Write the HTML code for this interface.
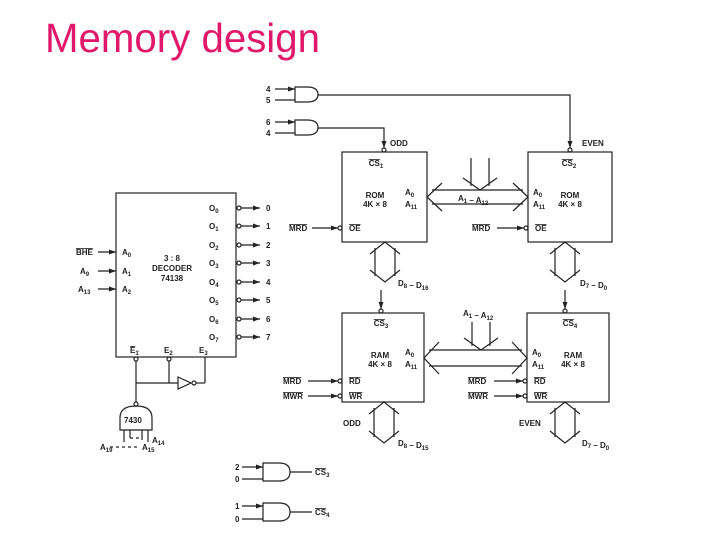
<!DOCTYPE html>
<html><head><meta charset="utf-8"><style>
html,body{margin:0;padding:0;background:#fff;width:720px;height:540px;overflow:hidden}
svg{display:block}
text{font-family:"Liberation Sans",Arial,sans-serif;font-weight:bold;fill:#222}
.t{font-size:8px}
line,path,rect,polyline,circle{stroke:#222;stroke-width:1.2;fill:none}
</style></head><body>
<svg width="720" height="540" viewBox="0 0 720 540">
<defs>
<marker id="a" markerWidth="8" markerHeight="6" refX="7" refY="3" orient="auto" markerUnits="userSpaceOnUse"><path d="M0,0.5 L7,3 L0,5.5 Z" style="fill:#222;stroke:none"/></marker>
</defs>
<text x="45" y="52" style="font-size:41px;font-weight:normal;fill:#e0176b" textLength="275" lengthAdjust="spacingAndGlyphs">Memory design</text>

<!-- Decoder -->
<rect x="116" y="193" width="120" height="164"/>
<g class="t">
<text x="209" y="211">O<tspan font-size="6" dy="2">0</tspan></text>
<text x="209" y="229">O<tspan font-size="6" dy="2">1</tspan></text>
<text x="209" y="248">O<tspan font-size="6" dy="2">2</tspan></text>
<text x="209" y="266">O<tspan font-size="6" dy="2">3</tspan></text>
<text x="209" y="285">O<tspan font-size="6" dy="2">4</tspan></text>
<text x="209" y="303">O<tspan font-size="6" dy="2">5</tspan></text>
<text x="209" y="322">O<tspan font-size="6" dy="2">6</tspan></text>
<text x="209" y="340">O<tspan font-size="6" dy="2">7</tspan></text>
<text x="122" y="255">A<tspan font-size="6" dy="2">0</tspan></text>
<text x="122" y="274">A<tspan font-size="6" dy="2">1</tspan></text>
<text x="122" y="292">A<tspan font-size="6" dy="2">2</tspan></text>
<text x="172" y="261" text-anchor="middle">3 : 8</text>
<text x="172" y="271" text-anchor="middle">DECODER</text>
<text x="172" y="281" text-anchor="middle">74138</text>
<text x="76" y="255" text-decoration="overline">BHE</text>
<text x="80" y="274">A<tspan font-size="6" dy="2">9</tspan></text>
<text x="78" y="292">A<tspan font-size="6" dy="2">13</tspan></text>
<text x="130" y="353" text-decoration="overline">E<tspan font-size="6" dy="2">1</tspan></text>
<text x="164" y="353">E<tspan font-size="6" dy="2">2</tspan></text>
<text x="199" y="353">E<tspan font-size="6" dy="2">3</tspan></text>
</g>
<g class="t">
<text x="266" y="211">0</text><text x="266" y="229">1</text><text x="266" y="248">2</text><text x="266" y="266">3</text>
<text x="266" y="285">4</text><text x="266" y="303">5</text><text x="266" y="322">6</text><text x="266" y="340">7</text>
</g>
<g>
<circle cx="239" cy="208" r="2"/><line x1="241" y1="208" x2="260" y2="208" marker-end="url(#a)"/>
<circle cx="239" cy="226" r="2"/><line x1="241" y1="226" x2="260" y2="226" marker-end="url(#a)"/>
<circle cx="239" cy="245" r="2"/><line x1="241" y1="245" x2="260" y2="245" marker-end="url(#a)"/>
<circle cx="239" cy="263" r="2"/><line x1="241" y1="263" x2="260" y2="263" marker-end="url(#a)"/>
<circle cx="239" cy="282" r="2"/><line x1="241" y1="282" x2="260" y2="282" marker-end="url(#a)"/>
<circle cx="239" cy="300" r="2"/><line x1="241" y1="300" x2="260" y2="300" marker-end="url(#a)"/>
<circle cx="239" cy="319" r="2"/><line x1="241" y1="319" x2="260" y2="319" marker-end="url(#a)"/>
<circle cx="239" cy="337" r="2"/><line x1="241" y1="337" x2="260" y2="337" marker-end="url(#a)"/>
<line x1="98" y1="252" x2="116" y2="252" marker-end="url(#a)"/>
<line x1="98" y1="271" x2="116" y2="271" marker-end="url(#a)"/>
<line x1="98" y1="289" x2="116" y2="289" marker-end="url(#a)"/>
</g>
<!-- enables -->
<circle cx="136" cy="359" r="2"/><circle cx="169" cy="359" r="2"/>
<line x1="136" y1="361" x2="136" y2="402"/>
<line x1="169" y1="361" x2="169" y2="383"/>
<line x1="136" y1="383" x2="178" y2="383"/>
<path d="M178,377 L191,383 L178,389 Z"/><circle cx="194" cy="383" r="2"/>
<line x1="196" y1="383" x2="205" y2="383"/><line x1="205" y1="383" x2="205" y2="357"/>
<!-- 7430 -->
<circle cx="136" cy="404" r="2"/>
<path d="M120,430 L120,418 Q120,406 136,406 Q152,406 152,418 L152,430 Z"/>
<text class="t" x="124" y="423">7430</text>
<line x1="124" y1="430" x2="124" y2="442"/><line x1="130" y1="430" x2="130" y2="438"/>
<line x1="142" y1="430" x2="142" y2="440"/><line x1="148" y1="430" x2="148" y2="442"/>
<line x1="130" y1="438" x2="142" y2="438" stroke-dasharray="3,3"/>
<line x1="110" y1="447" x2="140" y2="447" stroke-dasharray="3,3"/>
<text class="t" x="100" y="450">A<tspan font-size="6" dy="2">19</tspan></text>
<text class="t" x="142" y="450">A<tspan font-size="6" dy="2">15</tspan></text>
<text class="t" x="152" y="443">A<tspan font-size="6" dy="2">14</tspan></text>

<!-- top AND gates -->
<path d="M295,87 L307,87 Q318,87 318,94.5 Q318,102 307,102 L295,102 Z"/>
<path d="M295,120 L307,120 Q318,120 318,127.5 Q318,135 307,135 L295,135 Z"/>
<line x1="275" y1="89" x2="295" y2="89" marker-end="url(#a)"/><line x1="275" y1="100" x2="295" y2="100"/>
<line x1="275" y1="122" x2="295" y2="122" marker-end="url(#a)"/><line x1="275" y1="133" x2="295" y2="133"/>
<g class="t"><text x="266" y="92">4</text><text x="266" y="103">5</text><text x="266" y="125">6</text><text x="266" y="136">4</text></g>
<polyline points="318,95 570,95 570,148" marker-end="url(#a)"/>
<polyline points="318,128 384,128 384,148" marker-end="url(#a)"/>
<circle cx="384" cy="150" r="2"/><circle cx="570" cy="150" r="2"/>
<text class="t" x="390" y="146">ODD</text><text class="t" x="582" y="146">EVEN</text>

<!-- ROM boxes -->
<rect x="342" y="152" width="85" height="90"/>
<rect x="528" y="152" width="84" height="90"/>
<g class="t">
<text x="376" y="166" text-anchor="middle" text-decoration="overline">CS<tspan font-size="6" dy="2">1</tspan></text>
<text x="569" y="166" text-anchor="middle" text-decoration="overline">CS<tspan font-size="6" dy="2">2</tspan></text>
<text x="375" y="198" text-anchor="middle">ROM</text><text x="375" y="207" text-anchor="middle">4K × 8</text>
<text x="405" y="195">A<tspan font-size="6" dy="2">0</tspan></text><text x="405" y="207">A<tspan font-size="6" dy="2">11</tspan></text>
<text x="533" y="195">A<tspan font-size="6" dy="2">0</tspan></text><text x="533" y="207">A<tspan font-size="6" dy="2">11</tspan></text>
<text x="570" y="198" text-anchor="middle">ROM</text><text x="570" y="207" text-anchor="middle">4K × 8</text>
<text x="349" y="231" text-decoration="overline">OE</text><text x="535" y="231" text-decoration="overline">OE</text>
<text x="289" y="231" text-decoration="overline">MRD</text><text x="472" y="231" text-decoration="overline">MRD</text>
<text x="458" y="201">A<tspan font-size="6" dy="2">1</tspan> – A<tspan font-size="6" dy="2">12</tspan></text>
<text x="398" y="286">D<tspan font-size="6" dy="2">8</tspan> – D<tspan font-size="6" dy="2">16</tspan></text>
<text x="580" y="286">D<tspan font-size="6" dy="2">7</tspan> – D<tspan font-size="6" dy="2">0</tspan></text>
</g>
<line x1="312" y1="228" x2="338" y2="228" marker-end="url(#a)"/><circle cx="340" cy="228" r="2"/>
<line x1="497" y1="228" x2="524" y2="228" marker-end="url(#a)"/><circle cx="526" cy="228" r="2"/>
<!-- ROM bus -->
<line x1="432" y1="190" x2="523" y2="190"/><line x1="432" y1="204" x2="523" y2="204"/>
<polyline points="442,183 427,197 442,211"/><polyline points="513,183 528,197 513,211"/>
<line x1="471" y1="158" x2="471" y2="186"/><line x1="489" y1="158" x2="489" y2="186"/>
<polyline points="463,178 480,190 497,178"/>
<!-- ROM data buses -->
<line x1="375" y1="248" x2="375" y2="276"/><line x1="395" y1="248" x2="395" y2="276"/>
<polyline points="370,254 385,242 400,254"/><polyline points="370,270 385,282 400,270"/>
<line x1="555" y1="248" x2="555" y2="276"/><line x1="575" y1="248" x2="575" y2="276"/>
<polyline points="550,254 565,242 580,254"/><polyline points="550,270 565,282 580,270"/>

<!-- RAM boxes -->
<line x1="381" y1="290" x2="381" y2="309" marker-end="url(#a)"/><circle cx="381" cy="311" r="2"/>
<line x1="565" y1="290" x2="565" y2="309" marker-end="url(#a)"/><circle cx="565" cy="311" r="2"/>
<rect x="342" y="313" width="82" height="89"/>
<rect x="527" y="313" width="82" height="89"/>
<g class="t">
<text x="381" y="326" text-anchor="middle" text-decoration="overline">CS<tspan font-size="6" dy="2">3</tspan></text>
<text x="570" y="326" text-anchor="middle" text-decoration="overline">CS<tspan font-size="6" dy="2">4</tspan></text>
<text x="380" y="358" text-anchor="middle">RAM</text><text x="380" y="367" text-anchor="middle">4K × 8</text>
<text x="405" y="355">A<tspan font-size="6" dy="2">0</tspan></text><text x="405" y="367">A<tspan font-size="6" dy="2">11</tspan></text>
<text x="532" y="355">A<tspan font-size="6" dy="2">0</tspan></text><text x="532" y="367">A<tspan font-size="6" dy="2">11</tspan></text>
<text x="573" y="358" text-anchor="middle">RAM</text><text x="573" y="367" text-anchor="middle">4K × 8</text>
<text x="349" y="384" text-decoration="overline">RD</text><text x="349" y="399" text-decoration="overline">WR</text>
<text x="534" y="384" text-decoration="overline">RD</text><text x="534" y="399" text-decoration="overline">WR</text>
<text x="283" y="384" text-decoration="overline">MRD</text><text x="283" y="399" text-decoration="overline">MWR</text>
<text x="468" y="384" text-decoration="overline">MRD</text><text x="468" y="399" text-decoration="overline">MWR</text>
<text x="463" y="316">A<tspan font-size="6" dy="2">1</tspan> – A<tspan font-size="6" dy="2">12</tspan></text>
<text x="343" y="426">ODD</text><text x="519" y="426">EVEN</text>
<text x="398" y="446">D<tspan font-size="6" dy="2">8</tspan> – D<tspan font-size="6" dy="2">15</tspan></text>
<text x="582" y="446">D<tspan font-size="6" dy="2">7</tspan> – D<tspan font-size="6" dy="2">0</tspan></text>
</g>
<line x1="308" y1="381" x2="338" y2="381" marker-end="url(#a)"/><circle cx="340" cy="381" r="2"/>
<line x1="308" y1="396" x2="338" y2="396" marker-end="url(#a)"/><circle cx="340" cy="396" r="2"/>
<line x1="494" y1="381" x2="523" y2="381" marker-end="url(#a)"/><circle cx="525" cy="381" r="2"/>
<line x1="494" y1="396" x2="523" y2="396" marker-end="url(#a)"/><circle cx="525" cy="396" r="2"/>
<!-- RAM bus -->
<line x1="429" y1="350" x2="522" y2="350"/><line x1="429" y1="366" x2="522" y2="366"/>
<polyline points="439,342 424,358 439,374"/><polyline points="512,342 527,358 512,374"/>
<line x1="472" y1="322" x2="472" y2="346"/><line x1="490" y1="322" x2="490" y2="346"/>
<polyline points="464,338 481,350 498,338"/>
<!-- RAM data buses -->
<line x1="374" y1="408" x2="374" y2="437"/><line x1="394" y1="408" x2="394" y2="437"/>
<polyline points="369,414 384,402 399,414"/><polyline points="369,431 384,443 399,431"/>
<line x1="555" y1="408" x2="555" y2="437"/><line x1="575" y1="408" x2="575" y2="437"/>
<polyline points="550,414 565,402 580,414"/><polyline points="550,431 565,443 580,431"/>

<!-- bottom AND gates -->
<path d="M263,463 L279,463 Q290,463 290,472 Q290,481 279,481 L263,481 Z"/>
<path d="M263,503 L279,503 Q290,503 290,512 Q290,521 279,521 L263,521 Z"/>
<line x1="242" y1="467" x2="263" y2="467" marker-end="url(#a)"/><line x1="242" y1="479" x2="263" y2="479"/>
<line x1="242" y1="506" x2="263" y2="506" marker-end="url(#a)"/><line x1="242" y1="519" x2="263" y2="519"/>
<line x1="290" y1="472" x2="312" y2="472"/><line x1="290" y1="512" x2="312" y2="512"/>
<g class="t"><text x="235" y="470">2</text><text x="235" y="482">0</text><text x="235" y="509">1</text><text x="235" y="522">0</text>
<text x="315" y="475" text-decoration="overline">CS<tspan font-size="6" dy="2">3</tspan></text>
<text x="315" y="515" text-decoration="overline">CS<tspan font-size="6" dy="2">4</tspan></text></g>
</svg>
</body></html>
